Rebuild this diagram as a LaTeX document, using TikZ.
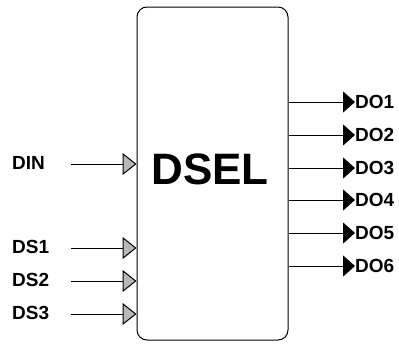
\documentclass[tikz,border=0pt]{standalone}
\usepackage{fontspec}
\setmainfont{Liberation Sans}
\usetikzlibrary{arrows.meta,positioning}

\begin{document}
\begin{tikzpicture}[
    x=1pt,y=-1pt,
    font=\bfseries,
    inarrow/.style={-{Triangle[length=14pt,width=22pt,fill=black!28]},draw=black,line width=1pt},
    outarrow/.style={-{Triangle[length=12pt,width=21pt]},draw=black,line width=1pt},
    pin/.style={font=\fontsize{19}{22}\selectfont\bfseries,inner sep=0pt},
    block/.style={draw=black,line width=1pt,rounded corners=10pt,inner sep=0pt}
  ]
    \useasboundingbox (0,0) rectangle (399,343);
    \node[block,minimum width=151pt,minimum height=333pt] (dsel) at (212.5,173.5) {};
    \node[font=\fontsize{44}{50}\selectfont\bfseries,inner sep=0pt] (dselname) at (210,169) {DSEL};

    % inputs
    \foreach \nm/\txt/\y in {din/DIN/164,ds1/DS1/248,ds2/DS2/281,ds3/DS3/314}{
      \node[pin,anchor=west] (\nm) at (12,\y-1) {\txt};
      \coordinate (\nm-src) at (71,\y);
      \draw[inarrow] (\nm-src) -- (\nm-src -| dsel.west);
    }

    % outputs
    \foreach \nm/\txt/\y in {do1/DO1/102,do2/DO2/135,do3/DO3/168,do4/DO4/200,do5/DO5/233,do6/DO6/266}{
      \node[pin,anchor=west] (\nm) at (355,\y) {\txt};
      \draw[outarrow] (\nm.west -| dsel.east) -- (\nm.west);
    }
\end{tikzpicture}
\end{document}
